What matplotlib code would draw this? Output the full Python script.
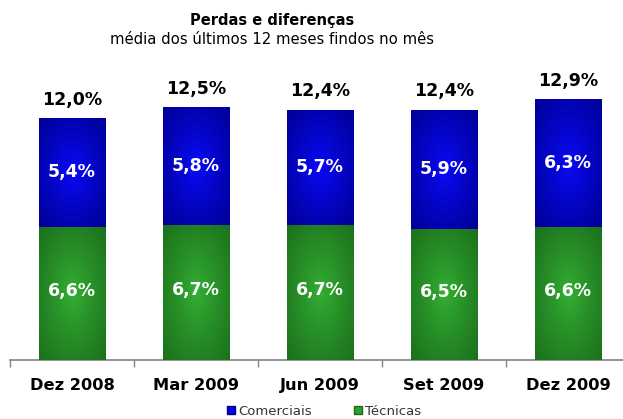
import numpy as np
import matplotlib
matplotlib.use("Agg")
import matplotlib.pyplot as plt
from matplotlib.lines import Line2D

categories = ["Dez 2008", "Mar 2009", "Jun 2009", "Set 2009", "Dez 2009"]
tecnicas = [6.6, 6.7, 6.7, 6.5, 6.6]
comerciais = [5.4, 5.8, 5.7, 5.9, 6.3]
totais = [12.0, 12.5, 12.4, 12.4, 12.9]
labels_tec = ["6,6%", "6,7%", "6,7%", "6,5%", "6,6%"]
labels_com = ["5,4%", "5,8%", "5,7%", "5,9%", "6,3%"]
labels_tot = ["12,0%", "12,5%", "12,4%", "12,4%", "12,9%"]

W, H = 623, 419
fig = plt.figure(figsize=(W / 100, H / 100), dpi=100)
fig.patch.set_facecolor("white")
ax = fig.add_axes([10 / W, 59 / H, 620 / W, 303 / H])

x = np.arange(len(categories))
bw = 0.54
bars_t = ax.bar(x, tecnicas, bw, color="#2a9a2a", zorder=2)
bars_c = ax.bar(x, comerciais, bw, bottom=tecnicas, color="#0000dd", zorder=2)


def gradient(center, edge):
    n = 200
    yy, xx = np.mgrid[-1:1:n * 1j, -1:1:n * 1j]
    r = np.clip(np.sqrt(xx ** 2 + yy ** 2) / np.sqrt(2), 0, 1) ** 0.8
    c = np.array(center) / 255.0
    e = np.array(edge) / 255.0
    return c[None, None, :] * (1 - r[..., None]) + e[None, None, :] * r[..., None]


img_t = gradient((52, 178, 52), (28, 112, 28))
img_c = gradient((10, 10, 255), (0, 0, 150))
for bars, img in ((bars_t, img_t), (bars_c, img_c)):
    for b in bars:
        x0, y0 = b.get_x(), b.get_y()
        im = ax.imshow(img, extent=[x0, x0 + b.get_width(), y0, y0 + b.get_height()],
                       aspect="auto", zorder=3, interpolation="bilinear")
        im.set_clip_path(b)

fs = 12.5
for i in range(len(categories)):
    ax.text(x[i], tecnicas[i] / 2 + 0.1, labels_tec[i], ha="center", va="center",
            color="white", fontsize=fs, fontweight="bold", zorder=5)
    ax.text(x[i], tecnicas[i] + comerciais[i] / 2, labels_com[i], ha="center", va="center",
            color="white", fontsize=fs, fontweight="bold", zorder=5)
    ax.text(x[i], totais[i] + 0.45, labels_tot[i], ha="center", va="bottom",
            color="black", fontsize=fs, fontweight="bold", zorder=5)

ax.set_xlim(-0.5, 4.5)
ax.set_ylim(0, 15)
for s in ("left", "right", "top"):
    ax.spines[s].set_visible(False)
ax.spines["bottom"].set_color("#808080")
ax.spines["bottom"].set_linewidth(1.2)
ax.set_yticks([])
ax.set_xticks(np.arange(-0.5, 5, 1.0))
ax.set_xticklabels([])
ax.tick_params(axis="x", length=5, color="#808080", width=1.0, direction="out")
for i, c in enumerate(categories):
    ax.text(x[i], -1.25, c, ha="center", va="center", fontsize=11.7,
            fontweight="bold", clip_on=False)

fig.text(272 / W, 1 - 20 / H, "Perdas e diferenças", ha="center", va="center",
         fontsize=10.5, fontweight="bold")
fig.text(272 / W, 1 - 40 / H, "média dos últimos 12 meses findos no mês", ha="center",
         va="center", fontsize=10.7)

handles = [
    Line2D([], [], marker="s", linestyle="", markersize=6, markerfacecolor="#0000ee",
           markeredgecolor="#000088", label="Comerciais"),
    Line2D([], [], marker="s", linestyle="", markersize=6, markerfacecolor="#2e9e2e",
           markeredgecolor="#1a6a1a", label="Técnicas"),
]
fig.legend(handles=handles, loc="center", bbox_to_anchor=(324 / W, 1 - 411 / H), ncol=2,
           frameon=False, fontsize=9.5, handlelength=0.6, handletextpad=0.25,
           columnspacing=3.2, borderpad=0, labelcolor="#333333")

fig.savefig("out.png", dpi=100, facecolor="white")
